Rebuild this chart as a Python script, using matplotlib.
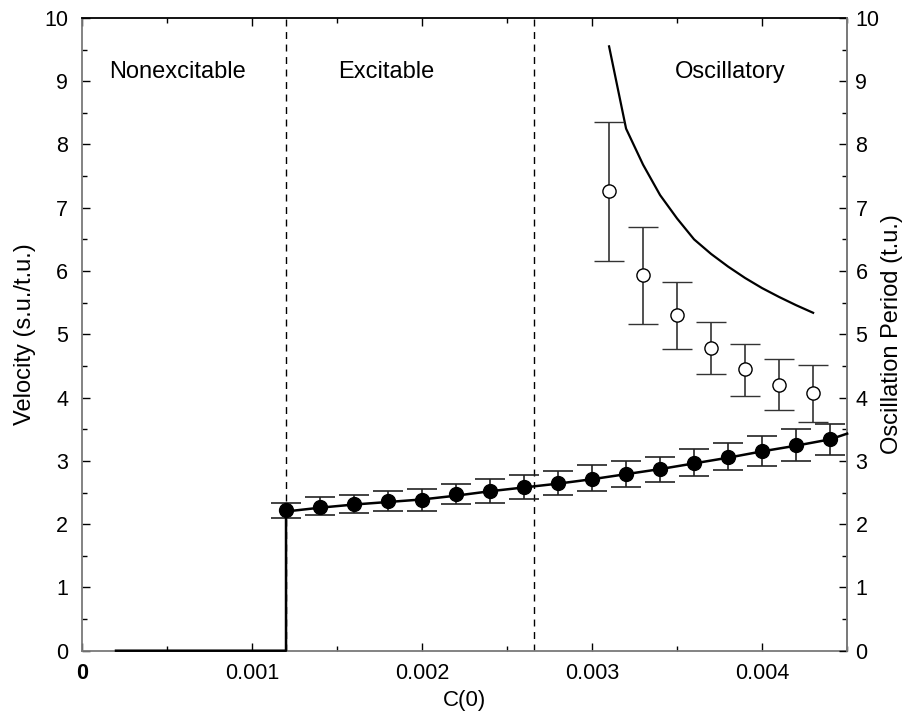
import numpy as np
import matplotlib
matplotlib.use("Agg")
import matplotlib.pyplot as plt
from matplotlib.ticker import MultipleLocator, FixedLocator

plt.rcParams['font.family'] = ['Liberation Sans', 'DejaVu Sans']

# velocity data (filled circles)
c_vel = [0.0012, 0.0014, 0.0016, 0.0018, 0.0020, 0.0022, 0.0024, 0.0026, 0.0028,
         0.0030, 0.0032, 0.0034, 0.0036, 0.0038, 0.0040, 0.0042, 0.0044]
vel = [2.22, 2.27, 2.32, 2.36, 2.38, 2.47, 2.53, 2.59, 2.65,
       2.72, 2.79, 2.87, 2.97, 3.06, 3.15, 3.25, 3.34]
vel_hi = [2.34, 2.43, 2.46, 2.52, 2.55, 2.63, 2.71, 2.77, 2.84,
          2.94, 2.99, 3.06, 3.18, 3.28, 3.40, 3.50, 3.58]
vel_lo = [2.09, 2.14, 2.18, 2.21, 2.20, 2.32, 2.34, 2.39, 2.46,
          2.53, 2.58, 2.67, 2.76, 2.85, 2.92, 3.00, 3.10]

# theoretical velocity curve
c_vel_th = [0.0002, 0.0012, 0.0012, 0.0014, 0.0016, 0.0018, 0.0020, 0.0022, 0.0024,
            0.0026, 0.0028, 0.0030, 0.0032, 0.0034, 0.0036, 0.0038, 0.0040,
            0.0042, 0.0044, 0.0045]
vel_th = [0.0, 0.0, 2.20, 2.26, 2.31, 2.35, 2.39, 2.45, 2.52,
          2.58, 2.64, 2.71, 2.79, 2.87, 2.96, 3.05, 3.15,
          3.24, 3.34, 3.43]

# oscillation period data (open circles)
c_per = [0.0031, 0.0033, 0.0035, 0.0037, 0.0039, 0.0041, 0.0043]
period = [7.26, 5.94, 5.30, 4.79, 4.45, 4.20, 4.07]
per_hi = [8.35, 6.70, 5.83, 5.19, 4.85, 4.61, 4.51]
per_lo = [6.16, 5.16, 4.77, 4.38, 4.03, 3.80, 3.61]

# theoretical period curve
c_per_th = [0.0031, 0.0032, 0.0033, 0.0034, 0.0035, 0.0036, 0.0037,
            0.0038, 0.0039, 0.0040, 0.0041, 0.0042, 0.0043]
per_th = [9.55, 8.25, 7.68, 7.20, 6.83, 6.50, 6.27,
          6.07, 5.89, 5.73, 5.59, 5.46, 5.34]

boundaries = [0.0012, 0.00266]
regions = ['Nonexcitable', 'Excitable', 'Oscillatory']
region_x = [0.00056, 0.00179, 0.00381]

fig = plt.figure(figsize=(9.06, 7.16), dpi=100)
ax = fig.add_axes([0.0905, 0.0912, 0.8445, 0.8838])

for b in boundaries:
    ax.axvline(b, color='black', lw=1.0, ls=(0, (5, 4)), zorder=1)

ax.plot(c_per_th, per_th, color='black', lw=1.6, zorder=3)

yerr_v = [np.array(vel) - np.array(vel_lo), np.array(vel_hi) - np.array(vel)]
ax.errorbar(c_vel, vel, yerr=yerr_v, fmt='o', color='black', ms=10, mfc='black',
            mec='black', ecolor='#222222', elinewidth=1.2, capsize=11, capthick=1.2,
            zorder=4)
yerr_p = [np.array(period) - np.array(per_lo), np.array(per_hi) - np.array(period)]
ax.errorbar(c_per, period, yerr=yerr_p, fmt='o', color='black', ms=9.5, mfc='white',
            mec='black', mew=1.0, ecolor='#333333', elinewidth=1.2, capsize=11,
            capthick=1.2, zorder=4)

for name, xr in zip(regions, region_x):
    ax.text(xr, 9.15, name, fontsize=17, ha='center', va='center')

ax.set_xlim(0, 0.0045)
ax.set_ylim(0, 10)
ax.xaxis.set_major_locator(FixedLocator([0, 0.001, 0.002, 0.003, 0.004]))
ax.set_xticklabels(['0', '0.001', '0.002', '0.003', '0.004'])
ax.get_xticklabels()[0].set_fontweight('bold')
ax.xaxis.set_minor_locator(MultipleLocator(0.0005))
ax.yaxis.set_major_locator(MultipleLocator(1))
ax.yaxis.set_minor_locator(MultipleLocator(0.5))
ax.tick_params(axis='x', which='both', direction='in', top=True, labelsize=15.5, pad=9)
ax.tick_params(axis='y', which='both', direction='in', labelsize=15.5, pad=10)
ax.tick_params(which='major', length=6, width=1.0)
ax.tick_params(which='minor', length=3.5, width=1.0)

ax.set_xlabel('C(0)', fontsize=16, labelpad=4)
ax.set_ylabel('Velocity (s.u./t.u.)', fontsize=17, labelpad=6)

for s in ['left', 'bottom', 'right']:
    ax.spines[s].set_color('#7a7a7a')
    ax.spines[s].set_linewidth(1.3)
ax.spines['top'].set_color('black')
ax.spines['top'].set_linewidth(1.3)

ax2 = ax.twinx()
ax2.set_ylim(0, 10)
ax2.yaxis.set_major_locator(MultipleLocator(1))
ax2.yaxis.set_minor_locator(MultipleLocator(0.5))
ax2.tick_params(axis='y', which='both', direction='in', labelsize=15.5, pad=6)
ax2.tick_params(which='major', length=6, width=1.0)
ax2.tick_params(which='minor', length=3.5, width=1.0)
ax2.set_ylabel('Oscillation Period (t.u.)', fontsize=17, labelpad=1)
for s in ['left', 'bottom', 'top']:
    ax2.spines[s].set_visible(False)
ax2.spines['right'].set_color('#7a7a7a')
ax2.spines['right'].set_linewidth(1.3)

# velocity curve drawn last so the zero segment sits on top of the axis line
ax2.plot(c_vel_th, vel_th, color='black', lw=1.8, zorder=5, clip_on=False)

fig.savefig('out.png', dpi=100)
